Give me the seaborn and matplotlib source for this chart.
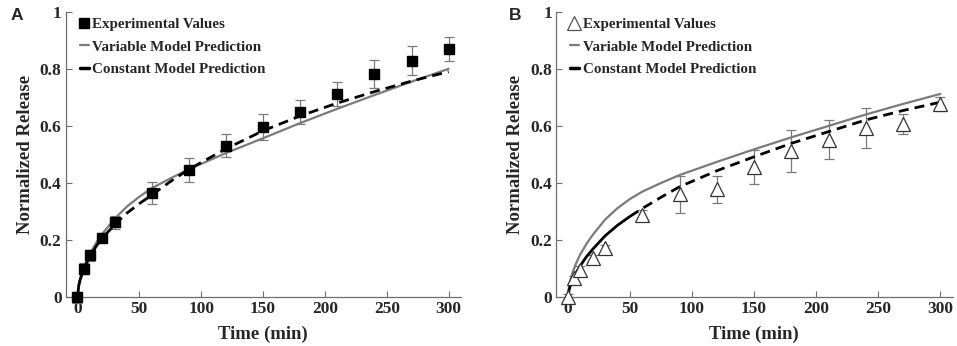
import matplotlib as mpl

mpl.use('Agg')
import pandas as pd
import matplotlib.pyplot as plt
import seaborn as sns
from matplotlib.lines import Line2D

# experimental time points (min)
t_exp = [0, 5, 10, 20, 30, 60, 90, 120, 150, 180, 210, 240, 270, 300]

# panel A: normalized release and error
a_exp = [0, 0.10, 0.147, 0.209, 0.262, 0.366, 0.446, 0.53, 0.596, 0.648,
         0.711, 0.782, 0.829, 0.87]
a_err = [0.02, 0.02, 0.02, 0.015, 0.024, 0.038, 0.042, 0.04, 0.046, 0.042,
         0.042, 0.05, 0.05, 0.043]

# panel B
b_exp = [0, 0.066, 0.095, 0.137, 0.172, 0.289, 0.361, 0.378, 0.455, 0.513,
         0.552, 0.592, 0.608, 0.678]
b_err = [0.01, 0.01, 0.015, 0.012, 0.012, 0.015, 0.065, 0.047, 0.06, 0.073,
         0.068, 0.07, 0.035, 0.025]

# model curves
t_mod = [0, 1, 2, 3, 5, 7, 10, 15, 20, 30, 40, 50, 60, 75, 90, 120, 150,
         180, 210, 240, 270, 300]
a_var = [0, 0.045, 0.065, 0.08, 0.105, 0.125, 0.152, 0.19, 0.222, 0.275,
         0.318, 0.352, 0.382, 0.416, 0.448, 0.505, 0.557, 0.61, 0.66, 0.708,
         0.755, 0.80]
a_con = [0, 0.04, 0.058, 0.072, 0.098, 0.117, 0.143, 0.178, 0.207, 0.254,
         0.295, 0.328, 0.358, 0.405, 0.448, 0.52, 0.583, 0.635, 0.68, 0.72,
         0.757, 0.79]
b_var = [0, 0.04, 0.058, 0.075, 0.10, 0.122, 0.15, 0.187, 0.218, 0.272,
         0.312, 0.344, 0.37, 0.40, 0.428, 0.474, 0.518, 0.56, 0.60, 0.64,
         0.677, 0.712]
b_con = [0, 0.025, 0.04, 0.052, 0.07, 0.088, 0.11, 0.142, 0.168, 0.215,
         0.252, 0.283, 0.311, 0.35, 0.387, 0.443, 0.492, 0.539, 0.58, 0.621,
         0.654, 0.683]

labels = ['Experimental Values', 'Variable Model Prediction',
          'Constant Model Prediction']

GRAY = '#7a7a7a'
AXC = '#6e6e6e'

sns.set_style('ticks')
plt.rcParams['font.family'] = ['Liberation Serif', 'DejaVu Serif']
plt.rcParams['font.weight'] = 'bold'


def panel(ax, y_exp, y_err, y_var, y_con, marker, solid_end):
    mod = pd.DataFrame({'t': t_mod, 'var': y_var, 'con': y_con})
    sns.lineplot(data=mod, x='t', y='var', color=GRAY, lw=1.6, ax=ax,
                 zorder=3)
    # black curve: solid near the origin, dashed afterwards
    sns.lineplot(data=mod.iloc[:solid_end + 1], x='t', y='con', color='black',
                 lw=2, ax=ax, zorder=4)
    sns.lineplot(data=mod.iloc[solid_end:], x='t', y='con', color='black',
                 lw=2, ax=ax, zorder=4)
    ax.lines[-1].set_dashes((3.6, 2.2))

    ax.errorbar(t_exp, y_exp, yerr=y_err, fmt='none', ecolor=GRAY,
                elinewidth=0.9, capsize=3.5, capthick=0.9, zorder=2,
                clip_on=False)
    if marker == 's':
        ax.plot(t_exp, y_exp, 's', ms=7, mfc='black', mec='black',
                zorder=5, clip_on=False)
        mh = Line2D([], [], marker='s', ls='none', ms=7, mfc='black',
                    mec='black')
    else:
        ax.plot(t_exp, y_exp, '^', ms=9.5, mfc='white', mec='#333333',
                mew=0.9, zorder=5, clip_on=False)
        mh = Line2D([], [], marker='^', ls='none', ms=9.5, mfc='white',
                    mec='#555555', mew=0.9)

    handles = [mh, Line2D([], [], color=GRAY, lw=1.6),
               Line2D([], [], color='black', lw=2.5)]
    ax.legend(handles, labels, loc='upper left', bbox_to_anchor=(0.02, 1.0),
              frameon=False, fontsize=10.8, handlelength=0.6,
              handletextpad=0.25, labelspacing=0.6, borderaxespad=0.)

    ax.set_xlim(-9.5, 310)
    ax.set_ylim(0, 1)
    ax.set_xticks([0, 50, 100, 150, 200, 250, 300])
    ax.set_yticks([0, 0.2, 0.4, 0.6, 0.8, 1])
    ax.set_yticklabels(['0', '0.2', '0.4', '0.6', '0.8', '1'])
    ax.tick_params(direction='in', length=4, width=0.8, color=AXC,
                   labelsize=12.5, pad=3)
    for s in ['left', 'bottom']:
        ax.spines[s].set_color(AXC)
        ax.spines[s].set_linewidth(0.9)
    ax.spines['right'].set_color('none')
    ax.spines['top'].set_color('none')
    ax.set_xlabel('Time (min)', fontsize=13.5, fontweight='bold', labelpad=6)
    ax.set_ylabel('Normalized Release', fontsize=13.5, fontweight='bold',
                  labelpad=4)


fig = plt.figure(figsize=(9.57, 3.46), dpi=100)
ax1 = fig.add_axes([0.0687, 0.1408, 0.413, 0.8254])
ax2 = fig.add_axes([0.581, 0.1408, 0.4145, 0.8254])

panel(ax1, a_exp, a_err, a_var, a_con, 's', 9)
panel(ax2, b_exp, b_err, b_var, b_con, '^', 11)

fig.text(0.011, 0.955, 'A', fontsize=12.5, fontweight='bold',
         family='Liberation Sans', va='center')
fig.text(0.532, 0.955, 'B', fontsize=12.5, fontweight='bold',
         family='Liberation Sans', va='center')

fig.savefig('out.png', dpi=100)
